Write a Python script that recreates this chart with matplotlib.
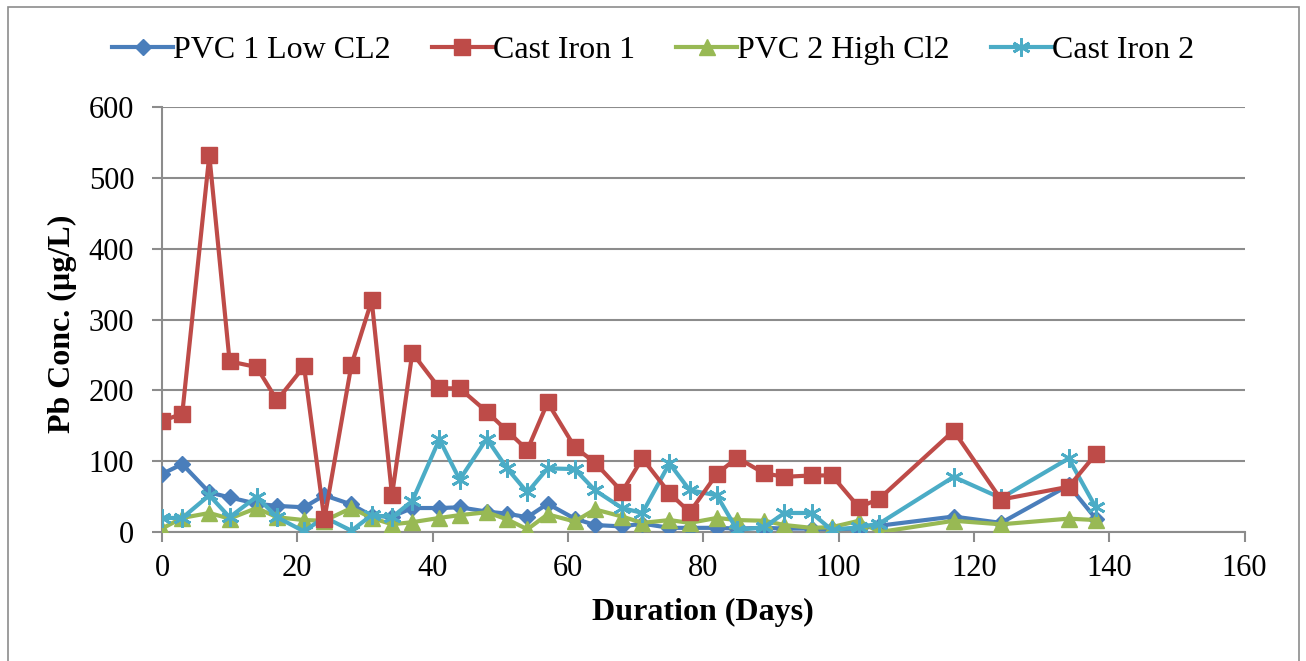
import matplotlib.pyplot as plt
from matplotlib.patches import Rectangle

# sampling days
days = [0, 3, 7, 10, 14, 17, 21, 24, 28, 31, 34, 37, 41, 44, 48, 51, 54, 57,
        61, 64, 68, 71, 75, 78, 82, 85, 89, 92, 96, 99, 103, 106, 117, 124, 134, 138]

pvc1_low = [82, 96, 56, 49, 40, 37, 35, 52, 39, 23, 22, 34, 34, 35, 29, 26, 21, 40,
            19, 10, 8, 12, 6, 6, 6, 5, 6, 5, 5, 4, 5, 9, 22, 13, 66, 19]
cast_iron1 = [157, 167, 532, 241, 233, 186, 234, 18, 236, 327, 52, 253, 203, 203, 170, 143, 116, 183,
              120, 98, 57, 104, 55, 28, 82, 105, 83, 78, 80, 80, 35, 47, 143, 46, 64, 110]
pvc2_high = [5, 20, 27, 19, 34, 21, 17, 16, 34, 20, 11, 14, 20, 24, 28, 18, 4, 25,
             15, 32, 22, 13, 17, 13, 20, 17, 16, 10, 6, 7, 16, 0, 16, 11, 19, 17]
cast_iron2 = [20, 20, 52, 21, 50, 21, 1, 21, 2, 24, 21, 44, 131, 74, 132, 90, 56, 90,
              89, 59, 34, 27, 97, 59, 52, 3, 7, 27, 27, 3, 7, 12, 78, 48, 104, 35]

plt.rcParams['font.family'] = ['Liberation Serif', 'DejaVu Serif']

fig = plt.figure(figsize=(13.06, 6.61), dpi=100)
ax = fig.add_axes([0.124, 0.195, 0.829, 0.643])

# outer chart border
fig.patches.append(Rectangle((0.006, -0.01), 0.989, 1.0, transform=fig.transFigure,
                             fill=False, edgecolor='#8c8c8c', linewidth=1.2))

lw = 3
ax.plot(days, pvc1_low, color='#4A7EBB', marker='D', markersize=8, lw=lw, label='PVC 1 Low CL2', zorder=3)
ax.plot(days, cast_iron1, color='#BE4B48', marker='s', markersize=11, lw=lw, label='Cast Iron 1', zorder=4)
ax.plot(days, pvc2_high, color='#98B954', marker='^', markersize=11, lw=lw, label='PVC 2 High Cl2', zorder=3)
ax.plot(days, cast_iron2, color='#4BACC6', marker=(6, 2, 0), markersize=13, markeredgewidth=2,
        lw=lw, label='Cast Iron 2', zorder=3)

ax.set_xlim(0, 160)
ax.set_ylim(0, 600)
ax.set_xticks(range(0, 161, 20))
ax.set_yticks(range(0, 601, 100))
ax.grid(axis='y', color='#8c8c8c', linewidth=1.5)
ax.set_axisbelow(True)
for s in ['top', 'right']:
    ax.spines[s].set_visible(False)
for s in ['left', 'bottom']:
    ax.spines[s].set_color('#8c8c8c')
    ax.spines[s].set_linewidth(1.5)
ax.tick_params(axis='both', colors='#8c8c8c', width=1.5, length=7, labelsize=22, labelcolor='black')
ax.tick_params(axis='y', pad=13)
ax.tick_params(axis='x', pad=9)

ax.set_xlabel('Duration (Days)', fontsize=23, fontweight='bold')
ax.set_ylabel('Pb Conc. (µg/L)', fontsize=23, fontweight='bold')
ax.xaxis.set_label_coords(0.5, -0.155)
ax.yaxis.set_label_coords(-0.078, 0.49)

fig.legend(loc='center', bbox_to_anchor=(0.5, 0.924), ncol=4, frameon=False, fontsize=23,
           handlelength=1.9, handletextpad=0.0, columnspacing=1.3)

fig.savefig('out.png', dpi=100)
